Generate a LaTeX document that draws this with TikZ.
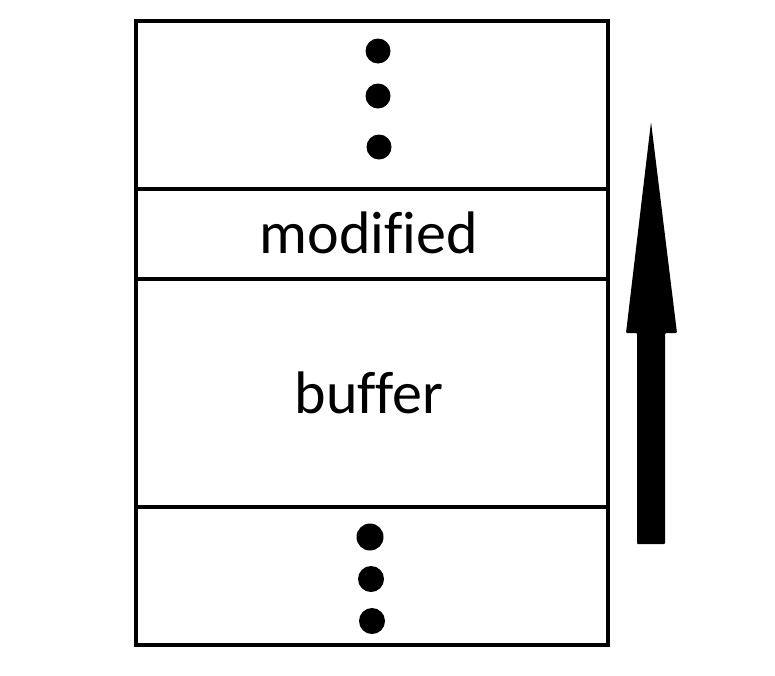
\documentclass[tikz,border=0pt]{standalone}
\usepackage{fontspec}
\setmainfont[Ligatures=NoCommon]{Carlito}
\usetikzlibrary{shapes.geometric}

\begin{document}
\begin{tikzpicture}
[every node/.style={inner sep=0pt, outer sep=0pt},
 cell/.style={rectangle, minimum width=472pt, line width=4pt, draw=black},
 dot/.style={circle, minimum size=25pt, fill=black},
 label/.style={font=\fontsize{60}{72}\selectfont, anchor=base}]
\useasboundingbox (0pt, 0pt) rectangle (775pt, -675pt);
\node (top) [cell, minimum height=168pt] at (372pt, -105pt) {};
\node (mod) [cell, minimum height=90pt] at (372pt, -234pt) {};
\node (buf) [cell, minimum height=228pt] at (372pt, -393pt) {};
\node (bot) [cell, minimum height=138pt] at (372pt, -576pt) {};
\node (t1) [dot] at (378pt, -51pt) {};
\node (t2) [dot] at (378pt, -96pt) {};
\node (t3) [dot] at (379pt, -147pt) {};
\node (b1) [dot, minimum size=27pt] at (370pt, -537pt) {};
\node (b2) [dot, minimum size=26pt] at (371pt, -579pt) {};
\node (b3) [dot, minimum size=26pt] at (372pt, -621pt) {};
\node (modtext) [label] at (369pt, -253pt) {modified};
\node (buftext) [label] at (369pt, -413pt) {buffer};
\fill [black, rounded corners=1pt] (637pt, -544pt) -- (637pt, -333pt) -- (626pt, -333pt) -- (651pt, -122pt) -- (677pt, -333pt) -- (665pt, -333pt) -- (665pt, -544pt) -- cycle;
\end{tikzpicture}
\end{document}
